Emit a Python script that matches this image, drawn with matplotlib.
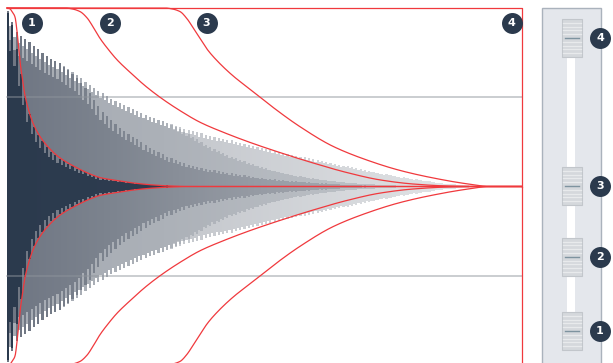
import numpy as np
import matplotlib
matplotlib.use("Agg")
import matplotlib.pyplot as plt
from matplotlib.patches import Rectangle
from matplotlib.colors import to_rgb

# ---------------- data (time in px-like units from the left edge, amplitude -1..1) ----------------
# envelope curves (red), one per slider setting
curve1_t = [0, 3, 5, 8, 10, 13, 15, 18, 21, 26, 33, 43, 53, 68, 83, 93, 108, 123, 143, 163, 183, 515]
curve1_a = [1.0, 0.995, 0.98, 0.95, 0.87, 0.70, 0.62, 0.51, 0.44, 0.355, 0.28, 0.21, 0.16, 0.11, 0.07,
            0.05, 0.035, 0.022, 0.01, 0.003, 0.0, 0.0]
curve2_t = [0, 58, 65, 73, 80, 86, 93, 101, 110, 123, 138, 153, 173, 193, 218, 243, 273, 306, 340,
            373, 406, 440, 473, 515]
curve2_a = [1.0, 1.0, 0.995, 0.98, 0.945, 0.895, 0.83, 0.77, 0.71, 0.64, 0.565, 0.50, 0.425, 0.36,
            0.30, 0.247, 0.19, 0.132, 0.078, 0.037, 0.014, 0.003, 0.0, 0.0]
curve3_t = [0, 158, 165, 173, 180, 186, 193, 200, 210, 226, 243, 251, 268, 293, 326, 360, 393, 426,
            460, 483, 515]
curve3_a = [1.0, 1.0, 0.995, 0.98, 0.94, 0.89, 0.83, 0.77, 0.705, 0.62, 0.545, 0.51, 0.435, 0.335,
            0.225, 0.148, 0.09, 0.048, 0.015, 0.0, 0.0]
curve4_t = [0, 515, 515]
curve4_a = [1.0, 1.0, 0.0]

# waveform layers (peak amplitude of the decaying signal under each setting)
layer_t = [0, 3, 6, 10, 15, 20, 26, 33, 43, 53, 68, 83, 93, 108, 123, 143, 163, 183, 203, 223, 253,
           283, 313, 343, 373, 403, 433, 463, 483]
layer4_a = [1.0, 0.96, 0.91, 0.86, 0.84, 0.82, 0.79, 0.76, 0.72, 0.69, 0.63, 0.57, 0.53, 0.48, 0.44,
            0.39, 0.35, 0.315, 0.285, 0.26, 0.22, 0.18, 0.145, 0.11, 0.075, 0.045, 0.02, 0.005, 0.0]
layer3_a = [1.0, 0.96, 0.91, 0.86, 0.84, 0.82, 0.79, 0.76, 0.72, 0.69, 0.63, 0.57, 0.53, 0.48, 0.44,
            0.39, 0.35, 0.29, 0.22, 0.17, 0.11, 0.067, 0.039, 0.021, 0.009, 0.003, 0.001, 0.0, 0.0]
layer2_a = [1.0, 0.96, 0.91, 0.86, 0.84, 0.82, 0.79, 0.76, 0.72, 0.69, 0.62, 0.52, 0.435, 0.35, 0.29,
            0.215, 0.16, 0.12, 0.094, 0.075, 0.048, 0.032, 0.019, 0.009, 0.003, 0.001, 0.0, 0.0, 0.0]
layer1_a = [0.98, 0.95, 0.89, 0.76, 0.60, 0.46, 0.34, 0.27, 0.20, 0.155, 0.105, 0.068, 0.048, 0.034,
            0.022, 0.011, 0.005, 0.002, 0.001, 0.0, 0.0, 0.0, 0.0, 0.0, 0.0, 0.0, 0.0, 0.0, 0.0]

guide_levels = [0.5, -0.5]
badge_labels = ["1", "2", "3", "4"]
badge_t = [24.5, 103, 199.5, 504.5]
badge_a = 0.918
slider_levels = [0.0, 0.253, 0.495, 1.0]

# ---------------- styles ----------------
NAVY = "#2b3a4d"
RED = "#f0393d"
PITCH = 2.15

fig = plt.figure(figsize=(6.13, 3.63), dpi=100)
ax = fig.add_axes([0, 0, 1, 1])
ax.set_xlim(-7, 606)
ax.set_ylim(-(363 - 186.5) / 178.5, 186.5 / 178.5)
ax.axis("off")


def gradient(xs, stops_x, stops_c):
    rgb = np.array([to_rgb(c) for c in stops_c])
    return np.stack([np.interp(xs, stops_x, rgb[:, i]) for i in range(3)], axis=1)


def smooth_path(x, y, n=800):
    """Monotone cubic (PCHIP) rendering of a line through the read points."""
    x = np.asarray(x, float)
    y = np.asarray(y, float)
    h = np.diff(x)
    d = np.diff(y) / h
    m = np.zeros_like(y)
    for k in range(1, len(x) - 1):
        if d[k - 1] * d[k] > 0:
            w1 = 2 * h[k] + h[k - 1]
            w2 = h[k] + 2 * h[k - 1]
            m[k] = (w1 + w2) / (w1 / d[k - 1] + w2 / d[k])
    m[0] = d[0]
    m[-1] = d[-1]
    xn = np.linspace(x[0], x[-1], n)
    i = np.clip(np.searchsorted(x, xn) - 1, 0, len(h) - 1)
    s = (xn - x[i]) / h[i]
    h00 = 2 * s**3 - 3 * s**2 + 1
    h10 = s**3 - 2 * s**2 + s
    h01 = -2 * s**3 + 3 * s**2
    h11 = s**3 - s**2
    yn = h00 * y[i] + h10 * h[i] * m[i] + h01 * y[i + 1] + h11 * h[i] * m[i + 1]
    return xn, yn


xs = np.arange(0, 485, PITCH) + PITCH / 2
idx = np.arange(len(xs))

layers = [
    (layer4_a, 0.93, [0, 200, 480], ["#b5bac1", "#c7cacf", "#e4e6e8"]),
    (layer3_a, 0.94, [0, 150, 420], ["#a6abb3", "#abb0b7", "#c1c5ca"]),
    (layer2_a, 0.86, [0, 100, 250, 420], ["#6e7582", "#7c838e", "#969ba4", "#aeb2b8"]),
    (layer1_a, 0.80, [0, 480], [NAVY, "#334155"]),
]
for amp, short, sx, sc in layers:
    h = np.interp(xs, layer_t, amp)
    h = h * np.where(idx % 2 == 0, 1.0, short)
    keep = h > 0.002
    cols = gradient(xs, sx, sc)
    ax.bar(xs[keep], 2 * h[keep], bottom=-h[keep], width=PITCH * 1.04,
           color=cols[keep], linewidth=0, zorder=2)

for g in guide_levels:
    ax.plot([0, 515], [g, g], color="#8f959c", alpha=0.55, lw=1.2, zorder=3)

for ct, ca in [(curve1_t, curve1_a), (curve2_t, curve2_a), (curve3_t, curve3_a)]:
    sx_, sy_ = smooth_path(ct, ca)
    ax.plot(sx_, sy_, color=RED, lw=0.9, zorder=4)
    ax.plot(sx_, -sy_, color=RED, lw=0.9, zorder=4)
ax.plot(curve4_t, curve4_a, color=RED, lw=0.9, zorder=4)
ax.plot(curve4_t, -np.array(curve4_a), color=RED, lw=0.9, zorder=4)

ax.scatter(badge_t, [badge_a] * 4, s=228, color=NAVY, zorder=5, linewidths=0)
for t, lab in zip(badge_t, badge_labels):
    ax.text(t, badge_a, lab, color="white", fontsize=8, fontweight="bold",
            ha="center", va="center", zorder=6)

# ---------------- slider panel ----------------
ax2 = fig.add_axes([530 / 613, 0, 83 / 613, 1])
PX = 293.0


def lvl(py):
    return (331 - py) / PX


ax2.set_xlim(530, 613)
ax2.set_ylim(lvl(363), lvl(0))
ax2.axis("off")
ax2.add_patch(Rectangle((542, lvl(370)), 59, lvl(8) - lvl(370), facecolor="#e4e7ec",
                        edgecolor="#aab2bc", lw=1.0, zorder=1))
ax2.add_patch(Rectangle((567, min(slider_levels)), 8, max(slider_levels) - min(slider_levels),
                        facecolor="white", edgecolor="none", zorder=2))
for i, L in enumerate(slider_levels):
    ax2.add_patch(Rectangle((562, L - 19 / PX), 20, 38 / PX, facecolor="#d5d8dc",
                            edgecolor="#c2c6cb", lw=0.8, zorder=3))
    for k in range(-4, 5):
        if k == 0:
            continue
        ax2.plot([563, 581], [L + k * 3.8 / PX] * 2, color="#e8eaec", lw=0.9, zorder=4)
    ax2.plot([565, 579], [L, L], color="#7e939f", lw=1.0, zorder=5)
    ax2.scatter([600], [L], s=228, color=NAVY, zorder=6, linewidths=0)
    ax2.text(600, L, badge_labels[i], color="white", fontsize=8, fontweight="bold",
             ha="center", va="center", zorder=7)

fig.savefig("out.png", dpi=100)
